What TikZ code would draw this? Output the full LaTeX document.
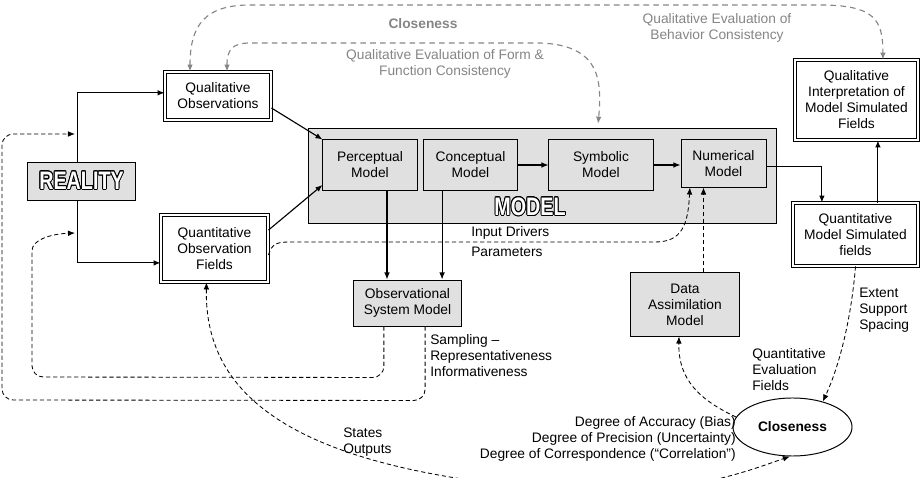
\documentclass[tikz,border=0pt]{standalone}
\usepackage{fontspec}
\setmainfont{Liberation Sans}
\newfontfamily\wordfont[FakeStretch=0.78]{Liberation Sans}
\usepackage{contour}
\contourlength{0.6pt}
\usetikzlibrary{arrows.meta,shapes.geometric}
\definecolor{boxgray}{gray}{0.88}
\definecolor{evalgray}{gray}{0.52}
\tikzset{
	every node/.style={font=\fontsize{9.8}{11.4}\selectfont},
	plainbox/.style={draw, fill=boxgray, line width=0.7pt, align=center},
	dblbox/.style={draw, double=white, double distance=1.3pt, line width=0.6pt, fill=white, align=center},
	arr/.style={line width=0.8pt, -{Latex[length=5pt,width=4pt]}},
	dsh/.style={dashed, dash pattern=on 3pt off 2pt, line width=0.6pt},
	darr/.style={dsh, -{Latex[length=5pt,width=4pt]}},
	graydsh/.style={evalgray, dash pattern=on 4pt off 3pt, line width=0.8pt, {Latex[length=5pt,width=4pt]}-{Latex[length=5pt,width=4pt]}},
	lbl/.style={align=left, anchor=west, inner sep=0pt},
	bigword/.style={font=\wordfont\bfseries\fontsize{18}{18}\selectfont}
}

\begin{document}
\begin{tikzpicture}[x=0.025cm,y=-0.025cm]
\useasboundingbox (0,0) rectangle (922,478);

\node[draw, fill=boxgray, line width=0.7pt, minimum width=11.675cm, minimum height=2.35cm] (modelbox) at (542.5,176) {};
\node[bigword] (modelword) at (530,207) {\contour{black}{\textcolor{white}{MODEL}}};

\node[plainbox, bigword, minimum width=2.675cm, minimum height=0.95cm] (reality) at (81.5,181) {\contour{black}{\textcolor{white}{REALITY}}};
\node[dblbox, minimum width=2.65cm, minimum height=1.2cm] (qualobs) at (218,96) {Qualitative\\Observations};
\node[dblbox, minimum width=2.675cm, minimum height=1.675cm] (quantobs) at (214.5,248.5) {Quantitative\\Observation\\Fields};
\node[plainbox, minimum width=2.35cm, minimum height=1.25cm] (percep) at (370,165) {Perceptual\\Model};
\node[plainbox, minimum width=2.325cm, minimum height=1.25cm] (concept) at (470.5,165) {Conceptual\\Model};
\node[plainbox, minimum width=2.6cm, minimum height=1.25cm] (symbolic) at (601,165) {Symbolic\\Model};
\node[plainbox, minimum width=2.125cm, minimum height=1.175cm] (numer) at (723.5,163.5) {Numerical\\Model};
\node[plainbox, minimum width=2.675cm, minimum height=1.15cm] (obssys) at (407.5,303) {Observational\\System Model};
\node[plainbox, minimum width=2.7cm, minimum height=1.575cm] (dataassim) at (685,304.5) {Data\\Assimilation\\Model};
\node[dblbox, minimum width=3.075cm, minimum height=2cm] (qualinterp) at (856.5,100) {Qualitative\\Interpretation of\\Model Simulated\\Fields};
\node[dblbox, minimum width=3.125cm, minimum height=1.575cm] (quantsim) at (855.5,234.5) {Quantitative\\Model Simulated\\fields};
\node[draw, ellipse, line width=0.7pt, minimum width=2.975cm, minimum height=1.45cm] (close) at (792.5,427) {\textbf{Closeness}};

\coordinate (rtop) at ([xshift=-0.11cm]reality.north);
\coordinate (rbot) at ([xshift=-0.11cm]reality.south);
\draw[arr] (rtop) |- ([yshift=0.08cm]qualobs.west);
\draw[arr] (rbot) |- ([yshift=-0.36cm]quantobs.west);
\draw[arr] ([yshift=-0.3cm]qualobs.east) -- (percep.north west);
\draw[arr] ([yshift=0.46cm]quantobs.east) -- ([yshift=-0.5cm]percep.west);
\draw[arr] (concept.east) -- (symbolic.west);
\draw[arr] (symbolic.east) -- (symbolic.east -| numer.west);
\draw[arr] ([yshift=-0.08cm]numer.east) -| ([xshift=-0.84cm]quantsim.north);
\coordinate (qsup) at ([xshift=0.56cm]quantsim.north);
\draw[arr] (qsup) -- (qsup |- qualinterp.south);
\coordinate (pdown) at ([xshift=0.425cm]percep.south);
\draw[arr] (pdown) -- (pdown |- obssys.north);
\coordinate (cdown) at ([xshift=-0.71cm]concept.south);
\draw[arr] (cdown) -- (cdown |- obssys.north);

\coordinate (inA) at (75,134);
\coordinate (inB) at (75,233);
\draw[darr, rounded corners=8pt] ([xshift=0.44cm]obssys.south) -- ++(0,74) -- (2,400) -- (2,134) -- (inA);
\draw[darr, rounded corners=8pt] ([xshift=-0.59cm]obssys.south) -- ++(0,51) -- (32,377) -- (32,262) .. controls (32,240) and (50,234) .. (inB);
\coordinate (numA) at ([xshift=-0.84cm]numer.south);
\coordinate (numB) at ([xshift=-0.5cm]numer.south);
\draw[darr] ([yshift=-0.16cm]quantobs.east) .. controls (272,244) and (276,242) .. (290,242) -- (655,242) .. controls (682,242) and (688,225) .. (numA);
\draw[darr] (dataassim.north -| numB) -- (numB);
\draw[darr] (close.170) .. controls (700,400) and (678,380) .. ([xshift=-0.15cm]dataassim.south);
\draw[darr] (quantsim.south) .. controls (852,310) and (842,360) .. (close.40);
\draw[dsh, {Latex[length=5pt,width=4pt]}-{Latex[length=5pt,width=4pt]}] ([xshift=-0.2cm]quantobs.south) .. controls (204,400) and (300,470) .. (560,490) .. controls (680,499) and (750,470) .. (close.265);

\draw[graydsh] ([xshift=-0.7cm]qualobs.north) .. controls (190,25) and (205,5) .. (250,5) -- (820,5) .. controls (875,5) and (883,20) .. ([xshift=0.66cm]qualinterp.north);
\draw[graydsh] ([xshift=0.225cm]qualobs.north) .. controls (227,50) and (232,43) .. (250,43) -- (540,43) .. controls (600,45) and (602,80) .. ([xshift=1.39cm,yshift=0.12cm]modelbox.north);

\node[text=evalgray] (closegray) at (423,24) {\textbf{Closeness}};
\node[text=evalgray, align=center] (formlbl) at (445,64) {Qualitative Evaluation of Form \&\\Function Consistency};
\node[text=evalgray, align=center] (behavlbl) at (717,28) {Qualitative Evaluation of\\Behavior Consistency};

\node[lbl] (indrv) at (471,233) {Input Drivers};
\node[lbl] (params) at (471,252) {Parameters};
\node[lbl] (sampl) at (430,356) {Sampling --\\Representativeness\\Informativeness};
\node[lbl] (states) at (343,442) {States\\Outputs};
\node[lbl] (extent) at (859,310) {Extent\\Support\\Spacing};
\node[lbl] (qevf) at (752,370) {Quantitative\\Evaluation\\Fields};
\node[align=right, anchor=east, inner sep=0pt] (degree) at (736,439) {Degree of Accuracy (Bias)\\Degree of Precision (Uncertainty)\\Degree of Correspondence (``Correlation'')};
\end{tikzpicture}
\end{document}
